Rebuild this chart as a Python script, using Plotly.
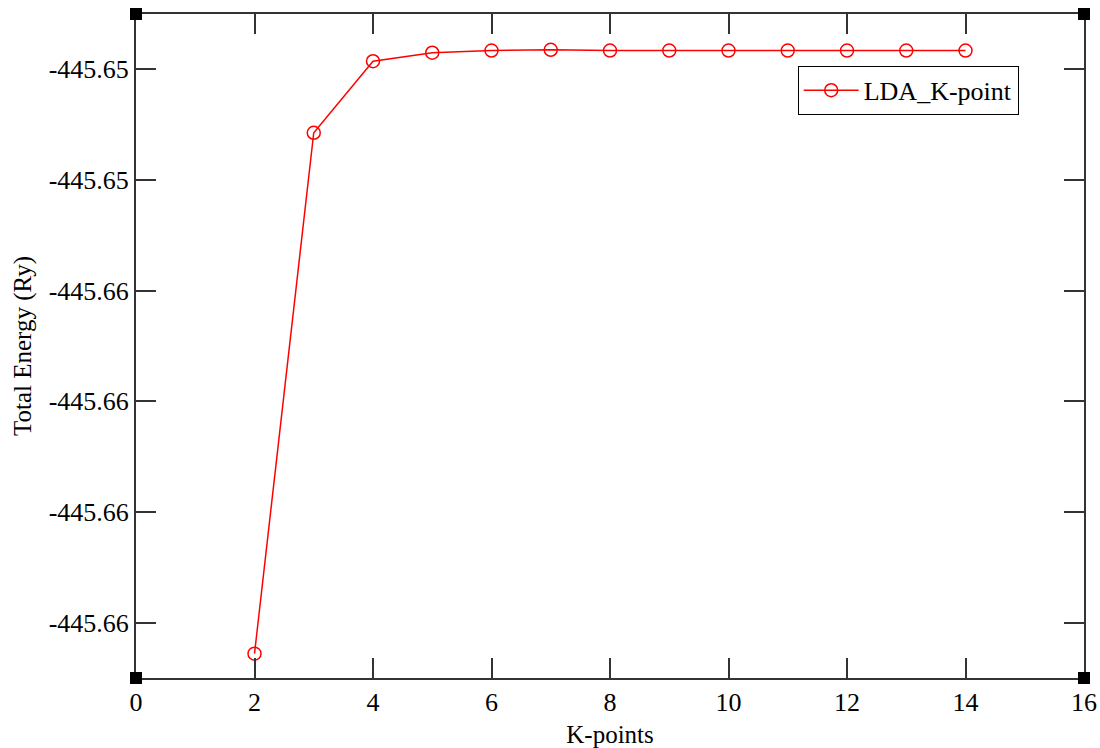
import plotly.graph_objects as go

# Data
k_points = [2, 3, 4, 5, 6, 7, 8, 9, 10, 11, 12, 13, 14]
total_energy = [-445.66484, -445.65072, -445.64878, -445.64855, -445.64849, -445.64847,
                -445.64849, -445.64849, -445.64849, -445.64849, -445.64849, -445.64849, -445.64849]
series_name = "LDA_K-point"

y_tickvals = [-445.649, -445.652, -445.655, -445.658, -445.661, -445.664]
y_ticktext = ["-445.65", "-445.65", "-445.66", "-445.66", "-445.66", "-445.66"]
x_tickvals = [0, 2, 4, 6, 8, 10, 12, 14, 16]
x_range = [0, 16]
y_range = [-445.6655, -445.6475]

FONT = "Liberation Serif"
AXIS_COLOR = "#333333"

fig = go.Figure()
fig.add_trace(go.Scatter(
    x=k_points, y=total_energy, name=series_name, mode="lines+markers",
    line=dict(color="#ff0000", width=1.5),
    marker=dict(symbol="circle-open", size=13, color="#ff0000", line=dict(width=1.5, color="#ff0000")),
))

# corner handle squares (decorative, paper-referenced so they are not clipped)
for px_, py_ in [(0, 0), (0, 1), (1, 0), (1, 1)]:
    fig.add_shape(type="rect", xref="paper", yref="paper", xsizemode="pixel", ysizemode="pixel",
                  xanchor=px_, yanchor=py_, x0=-6, x1=6, y0=-6, y1=6,
                  fillcolor="black", line=dict(width=0), layer="above")

fig.update_layout(
    width=1100, height=748,
    margin=dict(l=136, r=16, t=14, b=70),
    paper_bgcolor="white", plot_bgcolor="white",
    font=dict(family=FONT, size=26, color="black"),
    showlegend=True,
    legend=dict(x=0.698, y=0.922, xanchor="left", yanchor="top",
                bordercolor="black", borderwidth=1, bgcolor="white",
                font=dict(family=FONT, size=26, color="black"), itemwidth=55),
)
fig.update_xaxes(
    range=x_range, tickvals=x_tickvals, showgrid=False, zeroline=False, automargin=False,
    showline=True, linecolor=AXIS_COLOR, linewidth=2, mirror="ticks",
    ticks="inside", ticklen=20, tickwidth=2, tickcolor=AXIS_COLOR,
    tickfont=dict(family=FONT, size=26, color="black"),
    title=dict(text="K-points", font=dict(family=FONT, size=25, color="black")),
)
fig.update_yaxes(
    range=y_range, tickvals=y_tickvals, ticktext=y_ticktext, showgrid=False, zeroline=False,
    automargin=True,
    showline=True, linecolor=AXIS_COLOR, linewidth=2, mirror="ticks",
    ticks="inside", ticklen=20, tickwidth=2, tickcolor=AXIS_COLOR,
    tickfont=dict(family=FONT, size=26, color="black"),
    title=dict(text="Total Energy (Ry)", font=dict(family=FONT, size=25, color="black"), standoff=10),
)

fig.write_html("out.html")
